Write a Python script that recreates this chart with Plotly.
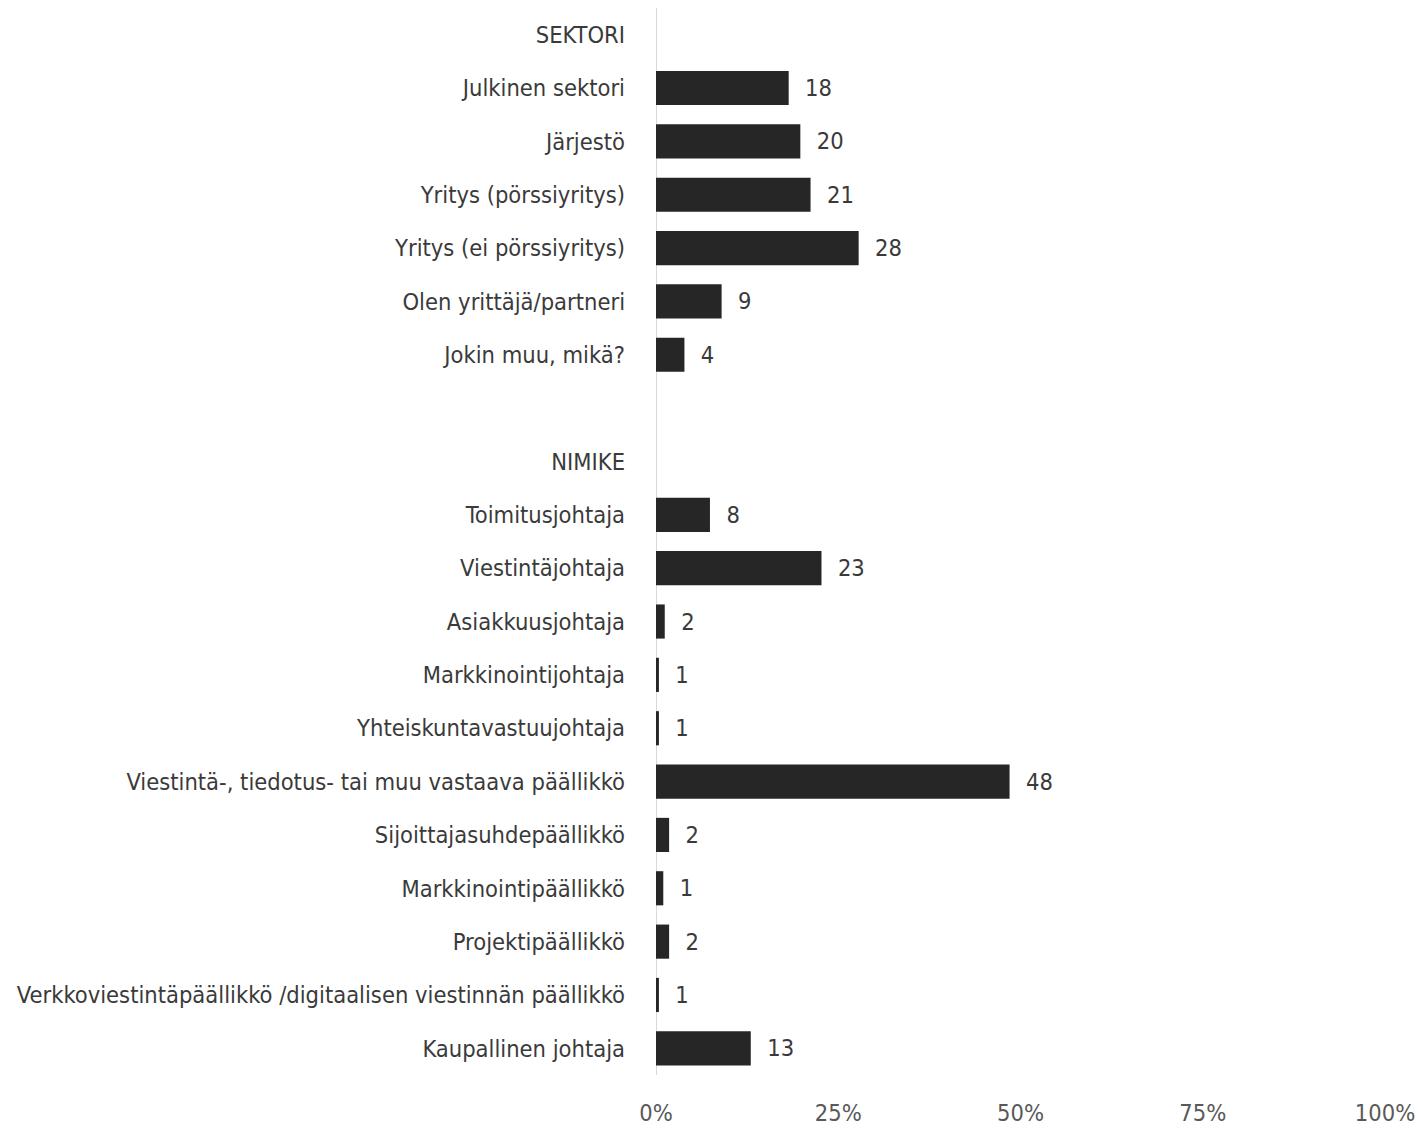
import plotly.graph_objects as go

categories = [
    "SEKTORI",
    "Julkinen sektori",
    "Järjestö",
    "Yritys (pörssiyritys)",
    "Yritys (ei pörssiyritys)",
    "Olen yrittäjä/partneri",
    "Jokin muu, mikä?",
    " ",
    "NIMIKE",
    "Toimitusjohtaja",
    "Viestintäjohtaja",
    "Asiakkuusjohtaja",
    "Markkinointijohtaja",
    "Yhteiskuntavastuujohtaja",
    "Viestintä-, tiedotus- tai muu vastaava päällikkö",
    "Sijoittajasuhdepäällikkö",
    "Markkinointipäällikkö",
    "Projektipäällikkö",
    "Verkkoviestintäpäällikkö /digitaalisen viestinnän päällikkö",
    "Kaupallinen johtaja",
]
# bar lengths in percent
values = [None, 18.2, 19.8, 21.2, 27.8, 9.0, 3.9, None, None,
          7.4, 22.7, 1.2, 0.4, 0.4, 48.5, 1.8, 1.0, 1.8, 0.4, 13.0]
# printed value labels
labels = ["", "18", "20", "21", "28", "9", "4", "", "",
          "8", "23", "2", "1", "1", "48", "2", "1", "2", "1", "13"]

x_ticks = [0, 25, 50, 75, 100]
x_tick_text = ["0%", "25%", "50%", "75%", "100%"]

FONT = "DejaVu Sans Condensed, Liberation Sans Narrow, Roboto, sans-serif"

fig = go.Figure(go.Bar(
    y=categories,
    x=values,
    orientation="h",
    marker=dict(color="#262626", line=dict(width=0)),
    text=[("  " + t) if t else "" for t in labels],
    textposition="outside",
    textfont=dict(family=FONT, size=23.5, color="#3a3a3a"),
    cliponaxis=False,
))

fig.update_layout(
    width=1417, height=1121,
    margin=dict(l=648, r=40, t=0, b=54),
    paper_bgcolor="white", plot_bgcolor="white",
    bargap=0.36,
    showlegend=False,
    font=dict(family=FONT, color="#3a3a3a"),
)
fig.update_yaxes(
    categoryorder="array", categoryarray=categories,
    autorange="reversed",
    showgrid=False, showline=False, zeroline=False,
    ticks="", ticklabelstandoff=30, automargin=False,
    tickfont=dict(family=FONT, size=23.5, color="#3a3a3a"),
)
fig.update_xaxes(
    range=[0, 100],
    tickvals=x_ticks, ticktext=x_tick_text,
    showgrid=False, zeroline=False,
    showline=False,
    ticks="", ticklabelstandoff=21, automargin=False,
    tickfont=dict(family=FONT, size=23.5, color="#595959"),
)
# vertical axis line at 0
fig.add_shape(type="line", xref="x", yref="paper", x0=0, x1=0, y0=0, y1=1,
              line=dict(color="#d9d9d9", width=2), layer="below")

fig.write_html("out.html")
